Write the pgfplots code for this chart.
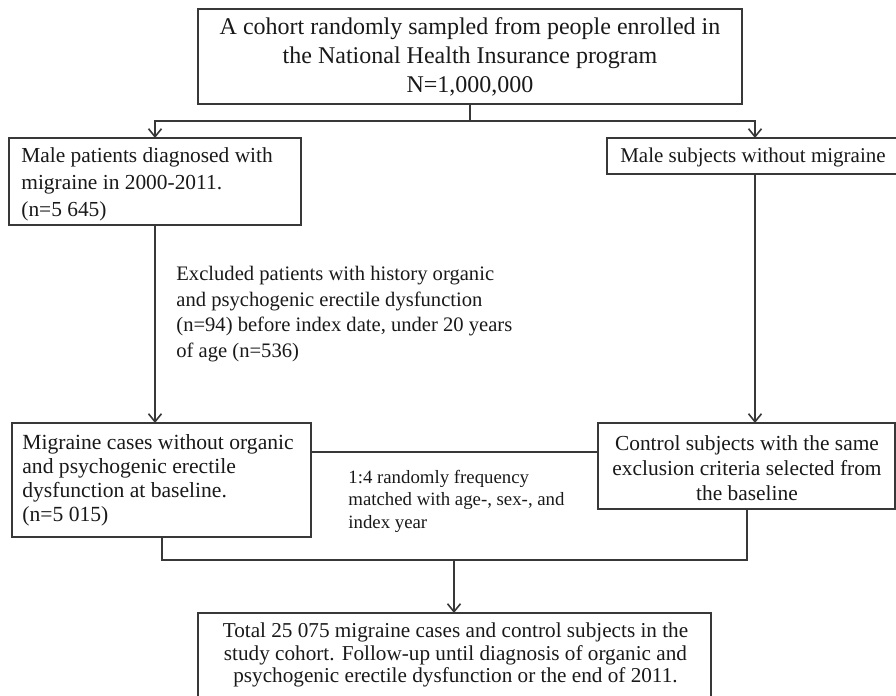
\documentclass[border=0pt]{standalone}
\usepackage{pgfplots}
\pgfplotsset{compat=1.18}
\usepackage{fontspec}
\setmainfont{Liberation Serif}
\usetikzlibrary{arrows.meta}
\begin{document}
\begin{tikzpicture}
\begin{axis}[width=448bp,height=348bp,scale only axis,
  xmin=0,xmax=896,ymin=0,ymax=696,y dir=reverse,
  hide axis,clip=false]
\coordinate (SW) at (axis cs:0,696);
\coordinate (NE) at (axis cs:896,0);
\tikzset{bx/.style={draw=black!78,line width=0.8bp},
  ln/.style={draw=black!78,line width=0.8bp},
  ar/.style={draw=black!78,line width=0.8bp,-{Straight Barb[length=4bp,width=6.5bp]}}}
% boxes
\draw[bx] (axis cs:198,9) rectangle (axis cs:742,104);
\draw[bx] (axis cs:9,138) rectangle (axis cs:301,225);
\draw[bx] (axis cs:607,138) rectangle (axis cs:905,174);
\draw[bx] (axis cs:12,423) rectangle (axis cs:311,537);
\draw[bx] (axis cs:598,423) rectangle (axis cs:895,509);
\draw[bx] (axis cs:198,613) rectangle (axis cs:711,705);
% connectors
\draw[ln] (axis cs:470,104) -- (axis cs:470,121);
\draw[ar] (axis cs:470,121) -- (axis cs:155,121) -- (axis cs:155,138);
\draw[ar] (axis cs:470,121) -- (axis cs:755,121) -- (axis cs:755,138);
\draw[ar] (axis cs:155,225) -- (axis cs:155,423);
\draw[ar] (axis cs:755,174) -- (axis cs:755,423);
\draw[ln] (axis cs:311,452) -- (axis cs:598,452);
\draw[ln] (axis cs:162,537) -- (axis cs:162,560) -- (axis cs:747,560) -- (axis cs:747,509);
\draw[ar] (axis cs:454,560) -- (axis cs:454,613);
% texts
\node[align=center,inner sep=0pt,text=black!90,font=\fontsize{12bp}{14.5bp}\selectfont] at (axis cs:470,57)
  {A cohort randomly sampled from people enrolled in\\ the National Health Insurance program\\ N=1,000,000};
\node[align=left,anchor=west,inner sep=0pt,text=black!90,font=\fontsize{10.7bp}{13.5bp}\selectfont] at (axis cs:21,184)
  {Male patients diagnosed with\\ migraine in 2000-2011.\\ (n=5 645)};
\node[align=center,inner sep=0pt,text=black!90,font=\fontsize{10.5bp}{13bp}\selectfont] at (axis cs:753,157)
  {Male subjects without migraine};
\node[align=left,anchor=west,inner sep=0pt,text=black!90,font=\fontsize{10.3bp}{12.85bp}\selectfont] at (axis cs:176,314)
  {Excluded patients with history organic\\ and psychogenic erectile dysfunction\\ (n=94) before index date, under 20 years\\ of age (n=536)};
\node[align=left,anchor=west,inner sep=0pt,text=black!90,font=\fontsize{10.8bp}{12bp}\selectfont] at (axis cs:22,480)
  {Migraine cases without organic\\ and psychogenic erectile\\ dysfunction at baseline.\\ (n=5 015)};
\node[align=center,inner sep=0pt,text=black!90,font=\fontsize{10.7bp}{12.5bp}\selectfont] at (axis cs:747,468)
  {Control subjects with the same\\ exclusion criteria selected from\\ the baseline};
\node[align=left,anchor=west,inner sep=0pt,text=black!90,font=\fontsize{9.4bp}{11.25bp}\selectfont] at (axis cs:348,501)
  {1:4 randomly frequency\\ matched with age-, sex-, and\\ index year};
\node[align=center,inner sep=0pt,text=black!90,font=\fontsize{10.6bp}{11.3bp}\selectfont] at (axis cs:455.5,655)
  {Total 25 075 migraine cases and control subjects in the\\ study cohort. Follow-up until diagnosis of organic and\\ psychogenic erectile dysfunction or the end of 2011.};
\end{axis}
\pgfresetboundingbox
\path[use as bounding box] (SW) rectangle (NE);
\end{tikzpicture}
\end{document}
